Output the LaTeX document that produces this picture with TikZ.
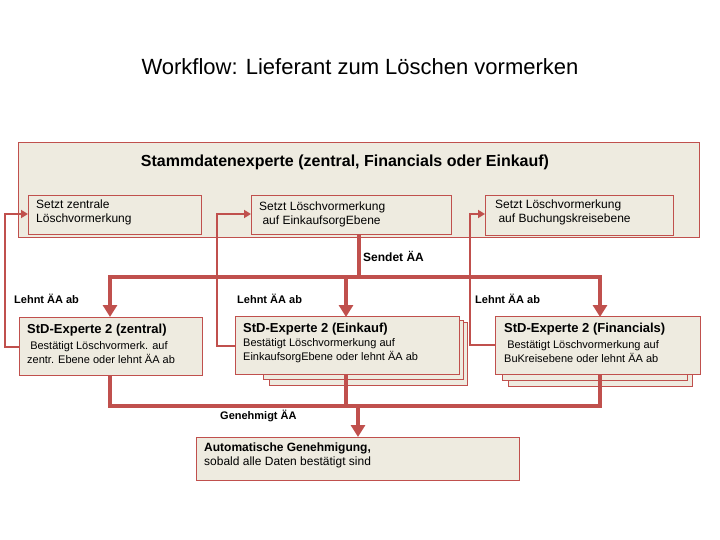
\documentclass[tikz,border=0pt]{standalone}
\usepackage{fontspec}
\setmainfont{Liberation Sans}
\usetikzlibrary{arrows.meta,positioning}
\definecolor{rahmen}{HTML}{C0504D}
\definecolor{papier}{HTML}{EEEBE0}
\tikzset{
  box/.style = {draw=rahmen, fill=papier, line width=0.8pt, inner sep=0pt},
  flow/.style = {draw=rahmen, line width=4pt},
  back/.style = {draw=rahmen, line width=2.5pt},
  tag/.style = {font=\bfseries\fontsize{11}{12}\selectfont, anchor=west, inner sep=0pt},
  txt/.style = {font=\fontsize{12}{14}\selectfont, align=left, anchor=north west, inner sep=0pt},
}
\begin{document}
\begin{tikzpicture}[x=1pt, y=-1pt]
    \useasboundingbox (0,0) rectangle (720,540);

      \node (title) at (360,67) {\fontsize{22}{26}\selectfont Workflow: Lieferant zum Löschen vormerken};

      % Stammdatenexperte
      \draw[box] (18,142) rectangle (699,237);
      \node (head) at (345,162) {\bfseries\fontsize{16}{18}\selectfont Stammdatenexperte (zentral, Financials oder Einkauf)};

      \draw[box] (28,195) rectangle (201,234);
      \node[txt] (s1) at (36,200) {Setzt zentrale\\Löschvormerkung};
      \draw[box] (251,195) rectangle (451,234);
      \node[txt] (s2) at (259,202) {Setzt Löschvormerkung\\\ auf EinkaufsorgEbene};
      \draw[box] (485,195) rectangle (673,235);
      \node[txt] (s3) at (495,200) {Setzt Löschvormerkung\\\ auf Buchungskreisebene};

      % Experte 2
      \draw[box] (19,317) rectangle (202,375);
      \node[txt] (b1) at (27,324) {\bfseries\fontsize{13}{15}\selectfont StD-Experte 2 (zentral)\\[2pt]
        \fontsize{11}{14}\selectfont\ Bestätigt Löschvormerk. auf\\\fontsize{11}{14}\selectfont zentr. Ebene oder lehnt ÄA ab};

      \draw[box] (269,322) rectangle (467,385);
      \draw[box] (263,320) rectangle (463,379);
      \draw[box] (235,316) rectangle (459,374);
      \node[txt] (b2) at (243,323) {\bfseries\fontsize{13}{15}\selectfont StD-Experte 2 (Einkauf)\\
        \fontsize{11}{14}\selectfont Bestätigt Löschvormerkung auf\\\fontsize{11}{14}\selectfont EinkaufsorgEbene oder lehnt ÄA ab};

      \draw[box] (508,322) rectangle (692,386);
      \draw[box] (502,320) rectangle (687,380);
      \draw[box] (495,316) rectangle (700,374);
      \node[txt] (b3) at (504,323) {\bfseries\fontsize{13}{15}\selectfont StD-Experte 2 (Financials)\\[2pt]
        \fontsize{11}{14}\selectfont\ Bestätigt Löschvormerkung auf\\\fontsize{11}{14}\selectfont BuKreisebene oder lehnt ÄA ab};

      % Ergebnis
      \draw[box] (196,437) rectangle (519,480);
      \node[txt] (end) at (204,443) {\bfseries\fontsize{12}{17}\selectfont Automatische Genehmigung,\\sobald alle Daten bestätigt sind};

      % Sendet
      \coordinate (send) at (359,234);
      \draw[flow] (send) -- (359,277);
      \draw[flow] (108,277) -- (602,277);
      \foreach \x in {110,346,600}
        \draw[flow, -{Triangle[length=12pt,width=14pt]}] (\x,277) -- (\x,317);
      \node[tag] (sendet) at (363,256) {\fontsize{12}{14}\selectfont Sendet ÄA};

      % Lehnt ab
      \draw[back, -{Triangle[length=7pt,width=8pt]}] (19,347) -- (5,347) -- (5,214) -- (28,214);
      \draw[back, -{Triangle[length=7pt,width=8pt]}] (235,346) -- (217,346) -- (217,214) -- (251,214);
      \draw[back, -{Triangle[length=7pt,width=8pt]}] (495,345) -- (470,345) -- (470,214) -- (485,214);
      \foreach \x in {14,237,475}
        \node[tag] at (\x,299) {Lehnt ÄA ab};

      % Genehmigt
      \foreach \x in {110,346,600}
        \draw[flow] (\x,375) -- (\x,408);
      \draw[flow] (108,406) -- (602,406);
      \draw[flow, -{Triangle[length=12pt,width=14pt]}] (358,406) -- (358,437);
      \node[tag] (gen) at (220,416) {Genehmigt ÄA};

\end{tikzpicture}
\end{document}
